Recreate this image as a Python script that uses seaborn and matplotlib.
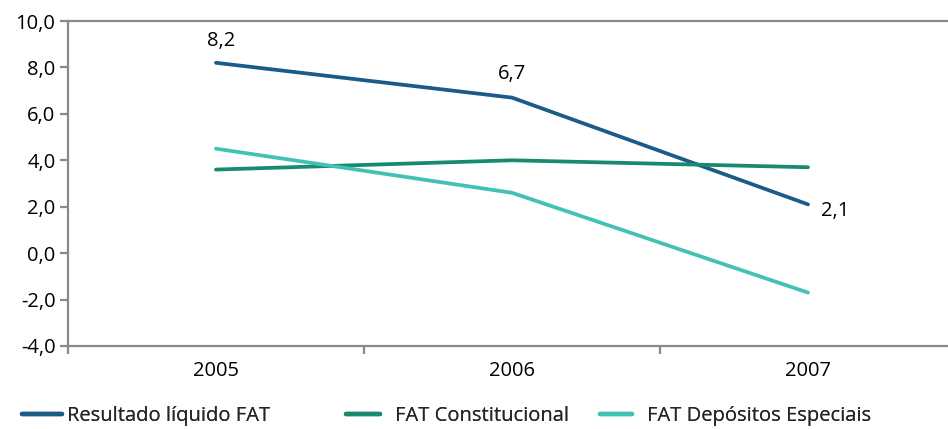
import matplotlib
matplotlib.use("Agg")
import matplotlib.pyplot as plt
from matplotlib.lines import Line2D
from matplotlib.ticker import FixedLocator, FuncFormatter
import seaborn as sns
import pandas as pd

# Series data
years = [2005, 2006, 2007]
series_names = ["Resultado líquido FAT", "FAT Constitucional", "FAT Depósitos Especiais"]
resultado = [8.2, 6.7, 2.1]
constitucional = [3.6, 4.0, 3.7]
depositos = [4.5, 2.6, -1.7]
colors = ["#1a5b8a", "#178a70", "#42c2b4"]

df = pd.DataFrame({
    "ano": years * 3,
    "valor": resultado + constitucional + depositos,
    "serie": [series_names[0]] * 3 + [series_names[1]] * 3 + [series_names[2]] * 3,
})

sns.set_theme(style="white")
plt.rcParams["font.family"] = ["Open Sans", "DejaVu Sans"]
FS = 14.5

fig = plt.figure(figsize=(9.48, 4.29), dpi=100)
W, H = 948, 429
ax = fig.add_axes([68 / W, 1 - 346 / H, (956 - 68) / W, (346 - 21) / H])

sns.lineplot(data=df, x="ano", y="valor", hue="serie", hue_order=series_names,
             palette=colors, linewidth=2.7, ax=ax, legend=False, sort=False)

ax.set_xlim(2004.5, 2007.5)
ax.set_ylim(-4, 10)
ax.set_xlabel("")
ax.set_ylabel("")

spine_color = "#8a8a8a"
for s in ax.spines.values():
    s.set_color(spine_color)
    s.set_linewidth(1.6)

# y axis: ticks every 2 with comma decimals
ax.yaxis.set_major_locator(FixedLocator([-4, -2, 0, 2, 4, 6, 8, 10]))
ax.yaxis.set_major_formatter(FuncFormatter(lambda v, p: f"{v:.1f}".replace(".", ",")))
ax.tick_params(axis="y", which="major", direction="out", length=6, width=1.6,
               color=spine_color, labelsize=FS, labelcolor="black", pad=3, left=True)

# x axis: tick marks at category boundaries, labels centred on categories
ax.xaxis.set_major_locator(FixedLocator([2004.5, 2005.5, 2006.5, 2007.5]))
ax.xaxis.set_minor_locator(FixedLocator(years))
ax.xaxis.set_major_formatter(FuncFormatter(lambda v, p: ""))
ax.xaxis.set_minor_formatter(FuncFormatter(lambda v, p: str(int(round(v)))))
ax.tick_params(axis="x", which="major", direction="out", length=6, width=1.6,
               color=spine_color, bottom=True)
ax.tick_params(axis="x", which="minor", length=0, labelsize=FS,
               labelcolor="black", pad=11, bottom=True)

# value labels for the net result series
label_offsets = [(4, 16), (0, 17), (9, -5)]
label_align = ["center", "center", "left"]
for x, v, off, ha in zip(years, resultado, label_offsets, label_align):
    ax.annotate(f"{v:.1f}".replace(".", ","), xy=(x, v), xytext=off,
                textcoords="offset points", ha=ha, va="center",
                fontsize=FS, color="black")

# legend entries placed individually along the bottom
leg_specs = [(22, 2.0, 0.25), (346, 1.7, 0.75), (600, 1.6, 0.75)]
for name, col, (x0, hl, gap) in zip(series_names, colors, leg_specs):
    h = Line2D([], [], color=col, linewidth=3.2)
    leg = fig.legend([h], [name], loc="center left",
                     bbox_to_anchor=(x0 / W, 1 - 416 / H), frameon=False,
                     fontsize=FS, handlelength=hl, handletextpad=gap,
                     borderpad=0, borderaxespad=0)
    fig.add_artist(leg)

fig.savefig("out.png", dpi=100)
